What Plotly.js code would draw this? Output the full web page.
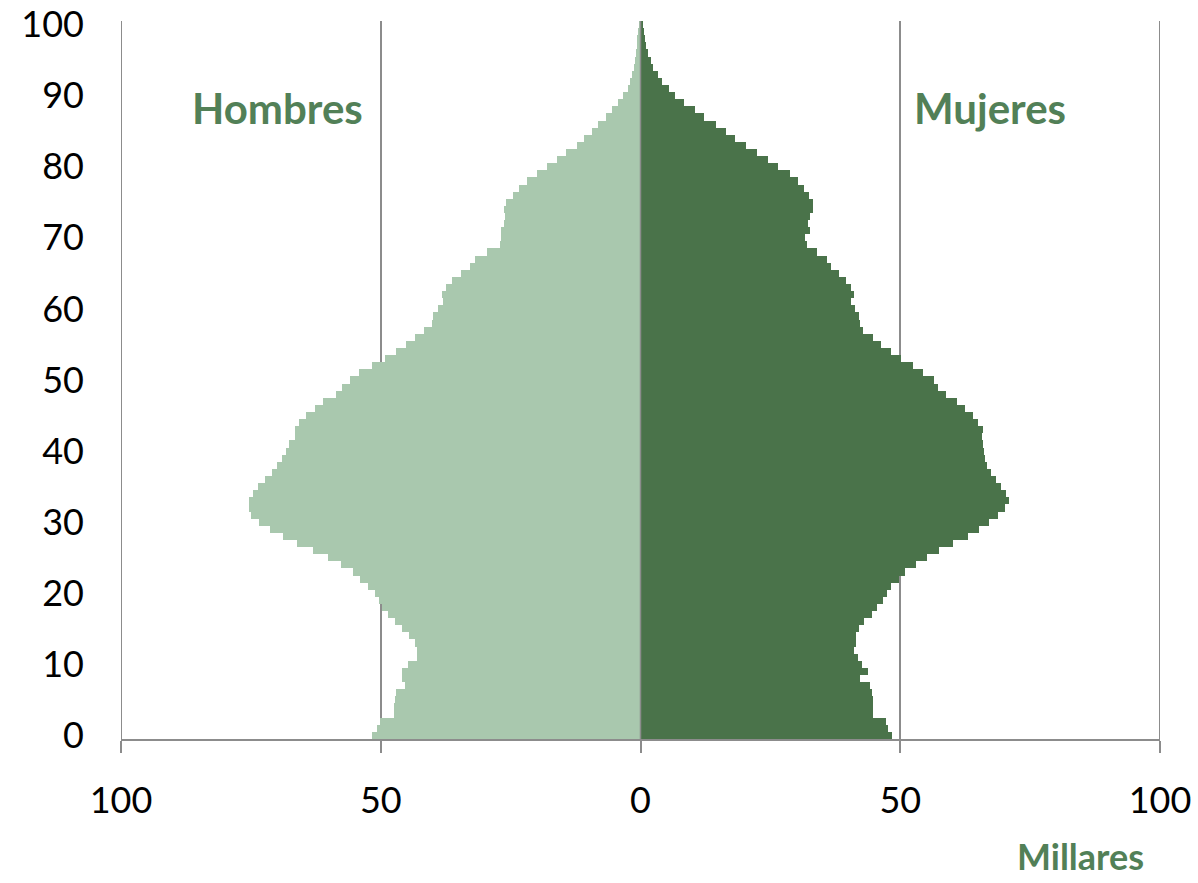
<!DOCTYPE html>
<html>
<head>
<meta charset="utf-8">
<script src="https://cdn.plot.ly/plotly-3.0.1.min.js"></script>
<style>
  html, body { margin: 0; padding: 0; background: #ffffff; }
  #chart { width: 1198px; height: 883px; }
</style>
</head>
<body>
<div id="chart"></div>
<script>
// Ages 0..100
const ages = Array.from({length: 101}, (_, i) => i);

// Población (miles) por edad simple, hombres
const hombres = [
  51.6, 50.8, 50.2, 47.4, 47.4, 47.2, 47.0, 45.3, 46.0, 45.9,
  44.7, 43.0, 43.0, 43.5, 44.5, 45.9, 47.2, 48.6, 49.7, 50.4,
  51.2, 52.4, 53.9, 55.3, 57.6, 60.1, 63.0, 66.1, 68.8, 71.4,
  73.4, 74.9, 75.3, 75.3, 74.5, 73.6, 72.2, 70.9, 69.9, 69.0,
  68.3, 67.6, 66.6, 66.6, 65.7, 64.3, 62.6, 61.1, 58.7, 57.4,
  56.0, 54.1, 51.6, 49.1, 47.0, 45.1, 43.5, 41.6, 40.2, 39.9,
  38.9, 38.0, 38.2, 37.4, 36.3, 34.5, 32.8, 31.8, 29.5, 27.1,
  26.8, 26.8, 26.2, 26.0, 26.2, 25.8, 24.5, 23.4, 21.8, 19.9,
  18.0, 16.1, 14.3, 12.2, 10.9, 9.3, 8.2, 6.6, 5.4, 4.4,
  3.4, 2.4, 2.0, 1.6, 1.3, 1.1, 0.9, 0.7, 0.6, 0.4,
  0.3
];

// Población (miles) por edad simple, mujeres
const mujeres = [
  48.5, 47.7, 47.3, 44.7, 44.7, 44.7, 44.5, 44.1, 42.3, 43.8,
  42.7, 41.8, 41.1, 41.4, 41.5, 42.1, 43.1, 44.5, 45.6, 46.6,
  47.4, 48.3, 49.7, 51.0, 53.0, 55.1, 57.4, 60.2, 63.1, 65.1,
  67.1, 68.9, 70.2, 70.9, 70.3, 69.4, 68.4, 67.4, 66.7, 66.3,
  66.1, 65.9, 65.7, 65.9, 65.0, 64.0, 62.4, 60.9, 58.9, 57.3,
  56.4, 54.4, 52.5, 50.2, 48.3, 46.3, 44.7, 42.8, 42.3, 42.0,
  41.3, 40.6, 41.1, 40.5, 39.6, 38.2, 36.7, 35.9, 34.0, 32.1,
  31.7, 32.6, 32.2, 32.6, 33.3, 33.3, 32.4, 31.5, 30.4, 28.7,
  26.4, 24.6, 22.5, 20.3, 18.1, 16.4, 14.5, 12.3, 10.4, 8.4,
  6.6, 5.5, 4.1, 3.3, 2.4, 2.1, 1.4, 1.0, 0.8, 0.6,
  0.5
];

const xTickVals = [-100, -50, 0, 50, 100];
const xTickText = ['100', '50', '0', '50', '100'];
const yTickVals = [0, 10, 20, 30, 40, 50, 60, 70, 80, 90, 100];
const yTickText = ['0', '10', '20', '30', '40', '50', '60', '70', '80', '90', '100'];

const colorHombres = '#a9c8ae';
const colorMujeres = '#4a734a';
const colorTexto = '#528057';
const colorGris = '#8c8c8c';
const numFont = 'Lato, "Open Sans", "DejaVu Sans", sans-serif';

const traces = [
  {
    type: 'bar', orientation: 'h', name: 'Hombres',
    y: ages, x: hombres.map(v => -v),
    customdata: hombres,
    hovertemplate: 'Edad %{y}<br>Hombres: %{customdata} mil<extra></extra>',
    marker: {color: colorHombres, line: {width: 0}}
  },
  {
    type: 'bar', orientation: 'h', name: 'Mujeres',
    y: ages, x: mujeres,
    hovertemplate: 'Edad %{y}<br>Mujeres: %{x} mil<extra></extra>',
    marker: {color: colorMujeres, line: {width: 0}}
  }
];

// vertical reference lines at the range edges (gridlines Plotly omits there)
const edgeLines = [-100, 100].map(v => ({
  type: 'line', xref: 'x', yref: 'paper', x0: v, x1: v, y0: 0, y1: 1,
  layer: 'below', line: {color: colorGris, width: 2}
}));

const layout = {
  width: 1198, height: 883,
  margin: {l: 121, r: 38, t: 21, b: 144},
  paper_bgcolor: '#ffffff', plot_bgcolor: '#ffffff',
  barmode: 'relative', bargap: 0,
  showlegend: false,
  xaxis: {
    range: [-100, 100],
    tickmode: 'array', tickvals: xTickVals, ticktext: xTickText,
    showgrid: true, gridcolor: colorGris, gridwidth: 2,
    zeroline: false,
    showline: true, linecolor: colorGris, linewidth: 2,
    ticks: 'outside', ticklen: 12, tickwidth: 2, tickcolor: colorGris,
    ticklabelstandoff: 17,
    tickfont: {family: numFont, size: 36, color: '#000000'},
    fixedrange: true
  },
  yaxis: {
    range: [-0.5, 100.5],
    tickmode: 'array', tickvals: yTickVals, ticktext: yTickText,
    showgrid: false, zeroline: false, showline: false,
    ticks: '', ticklabelstandoff: 36,
    tickfont: {family: numFont, size: 36, color: '#000000'},
    fixedrange: true
  },
  shapes: edgeLines.concat([
    {type: 'line', xref: 'x', yref: 'paper', x0: 0, x1: 0, y0: 0, y1: 1,
     layer: 'above', line: {color: colorGris, width: 1.5}}
  ]),
  annotations: [
    {text: '<b>Hombres</b>', xref: 'paper', yref: 'paper', x: 0.151, y: 0.879,
     xanchor: 'center', yanchor: 'middle', showarrow: false,
     font: {family: numFont, size: 42, color: colorTexto}},
    {text: '<b>Mujeres</b>', xref: 'paper', yref: 'paper', x: 0.836, y: 0.879,
     xanchor: 'center', yanchor: 'middle', showarrow: false,
     font: {family: numFont, size: 42, color: colorTexto}},
    {text: '<b>Millares</b>', xref: 'paper', yref: 'paper', x: 0.9865, y: -0.163,
     xanchor: 'right', yanchor: 'middle', showarrow: false,
     font: {family: numFont, size: 36, color: colorTexto}}
  ]
};

Plotly.newPlot('chart', traces, layout, {displayModeBar: false, staticPlot: false});
</script>
</body>
</html>
